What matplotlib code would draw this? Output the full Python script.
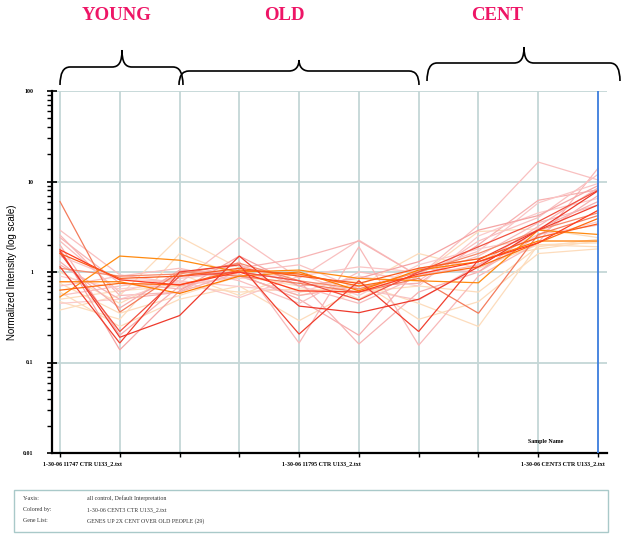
import matplotlib
matplotlib.use('Agg')
import matplotlib.pyplot as plt
from matplotlib.path import Path
from matplotlib.patches import PathPatch, Rectangle
from matplotlib.ticker import FixedLocator, FixedFormatter, LogLocator, NullFormatter

W, H = 621, 537

# samples along the x axis (only every fourth one is labelled)
sample_labels = ['1-30-06 11747 CTR U133_2.txt', '', '', '',
                 '1-30-06 11795 CTR U133_2.txt', '', '', '',
                 '1-30-06 CENT3 CTR U133_2.txt', '']

# age groups: name, first sample, last sample
groups = [('YOUNG', 0, 2), ('OLD', 2, 6), ('CENT', 6, 9)]

# normalized intensity per gene (29 genes x 10 samples), light colours first
intensity = [
    [0.38, 0.55, 2.45, 1.1, 0.6, 0.7, 1.6, 1.1, 2.0, 1.9],
    [0.47, 0.30, 1.6, 0.9, 0.7, 0.8, 0.30, 0.47, 1.6, 1.8],
    [0.60, 0.25, 0.50, 0.70, 0.29, 0.65, 0.9, 2.8, 3.0, 2.4],
    [1.0, 0.45, 0.95, 0.55, 1.0, 0.50, 1.1, 1.4, 1.8, 2.2],
    [0.50, 0.62, 0.70, 0.60, 0.65, 0.60, 0.70, 0.60, 1.9, 2.3],
    [0.75, 0.35, 0.55, 0.9, 0.55, 0.75, 0.45, 0.25, 2.0, 2.1],
    [2.9, 0.93, 0.75, 2.4, 0.85, 2.25, 0.9, 3.3, 16.4, 10.4],
    [2.56, 0.55, 0.60, 1.3, 0.164, 1.9, 0.155, 0.9, 2.1, 14.0],
    [1.99, 0.20, 0.70, 0.9, 0.55, 0.70, 0.75, 2.0, 6.2, 8.1],
    [1.5, 0.82, 0.80, 0.52, 0.9, 1.14, 1.0, 1.7, 5.8, 9.5],
    [2.2, 0.60, 0.9, 1.2, 0.70, 0.45, 0.9, 1.5, 3.5, 5.5],
    [0.45, 0.50, 0.80, 0.69, 0.60, 0.9, 0.70, 2.5, 4.5, 6.5],
    [0.55, 0.70, 0.85, 1.0, 1.2, 0.65, 0.49, 1.2, 2.6, 3.3],
    [1.3, 0.40, 1.05, 0.95, 0.50, 0.20, 1.1, 1.0, 3.0, 6.0],
    [0.70, 0.9, 1.1, 0.8, 0.45, 1.0, 0.8, 2.2, 4.0, 12.0],
    [2.4, 0.75, 0.65, 1.1, 1.42, 2.2, 0.9, 1.2, 3.2, 8.5],
    [0.9, 0.65, 0.75, 0.85, 0.95, 0.55, 1.2, 1.8, 2.4, 3.6],
    [1.2, 0.50, 0.60, 1.0, 0.8, 0.16, 0.60, 1.0, 2.5, 7.0],
    [1.8, 0.138, 0.62, 1.5, 0.70, 0.85, 1.3, 2.9, 4.2, 9.0],
    [6.0, 0.36, 1.0, 0.9, 0.75, 0.60, 0.85, 0.35, 2.6, 4.2],
    [1.1, 0.9, 0.95, 1.25, 0.8, 0.65, 1.0, 1.6, 2.9, 4.5],
    [0.53, 1.5, 1.35, 1.0, 1.05, 0.85, 0.8, 0.76, 2.9, 2.6],
    [0.78, 0.78, 0.58, 0.9, 1.0, 0.62, 1.05, 1.3, 2.2, 2.2],
    [0.63, 0.75, 0.72, 1.05, 0.95, 0.70, 0.9, 1.14, 2.1, 3.9],
    [1.62, 0.22, 0.9, 1.0, 0.8, 0.49, 1.0, 1.9, 3.6, 8.0],
    [1.14, 0.164, 1.0, 1.2, 0.206, 0.8, 0.22, 1.36, 2.9, 5.5],
    [1.7, 0.19, 0.33, 1.5, 0.42, 0.355, 0.5, 1.14, 2.9, 7.9],
    [1.76, 0.82, 0.72, 1.0, 0.62, 0.60, 0.95, 1.3, 2.1, 4.8],
    [1.6, 0.85, 0.9, 1.1, 0.9, 0.75, 1.1, 1.4, 2.4, 3.4],
]
line_colors = (['#fddcbc'] * 6 + ['#f9c0c0', '#f8b8b8', '#f7b0b0', '#fac6c6', '#f8bcbc',
                                  '#fbcaca', '#f9c2c2', '#f6aeae', '#f9c0c0', '#f7b4b4',
                                  '#fbcccc', '#f7b2b2', '#f5a4a4']
               + ['#f47c5c', '#f68a6c', '#ff8a10', '#ff7a00', '#ff6a10',
                  '#f25040', '#f04030', '#ee3a2c', '#ff3c1e', '#fb5a1e'])

fig = plt.figure(figsize=(W / 100, H / 100), dpi=100)

# main plot area
ax = fig.add_axes([52 / W, 1 - 453 / H, 555 / W, 362 / H])
ax.set_yscale('log')
ax.set_ylim(0.01, 100)
ax.set_xlim(-8 / 59.78, 9 + 9 / 59.78)

grid_c = '#c4d7d7'
for v in [0.1, 1, 10, 100]:
    ax.axhline(v, color=grid_c, lw=1.3, zorder=1)
for i in range(len(sample_labels)):
    if i == len(sample_labels) - 1:
        ax.axvline(i, color='#3b7ddd', lw=1.3, zorder=3)
    else:
        ax.axvline(i, color=grid_c, lw=1.3, zorder=1)

xs = list(range(len(sample_labels)))
for row, c in zip(intensity, line_colors):
    ax.plot(xs, row, color=c, lw=0.9, zorder=2, solid_joinstyle='miter')

for s in ['top', 'right']:
    ax.spines[s].set_visible(False)
for s in ['left', 'bottom']:
    ax.spines[s].set_linewidth(1.6)

tick_font = dict(family='Liberation Serif', weight='bold', size=4.3)
ax.yaxis.set_major_locator(FixedLocator([0.01, 0.1, 1, 10, 100]))
ax.yaxis.set_major_formatter(FixedFormatter(['0.01', '0.1', '1', '10', '100']))
ax.yaxis.set_minor_locator(LogLocator(base=10, subs=range(2, 10)))
ax.yaxis.set_minor_formatter(NullFormatter())
ax.tick_params(axis='y', which='major', direction='inout', length=7, width=1.2, pad=10)
ax.tick_params(axis='y', which='minor', direction='out', length=3.5, width=1.0)
ax.tick_params(axis='x', which='major', direction='out', length=3, width=1.0)
for lab in ax.get_yticklabels():
    lab.set_fontproperties(tick_font)

ax.set_xticks(xs)
ax.set_xticklabels([])
for i, lab in enumerate(sample_labels):
    if lab:
        ax.text(i - 0.29, 0.0082, lab, ha='left', va='top', **tick_font)
ax.text(8.13, 0.0125, 'Sample Name', ha='center', va='bottom', **tick_font)

fig.text(12 / W, 1 - 272 / H, 'Normalized Intensity (log scale)', rotation=90,
         ha='center', va='center', family='Liberation Sans', size=7)

# overlay in pixel coordinates for group braces and the info box
ov = fig.add_axes([0, 0, 1, 1], facecolor='none')
ov.set_xlim(0, W)
ov.set_ylim(H, 0)
ov.axis('off')


def brace(x0, x1, xc, y_end, y_mid, y_top):
    r = 10
    verts = [(x0, y_end),
             (x0, y_mid), (x0 + r, y_mid),
             (xc - 10, y_mid),
             (xc - 3, y_mid), (xc, y_mid - 5), (xc, y_top),
             (xc, y_mid - 5), (xc + 3, y_mid), (xc + 10, y_mid),
             (x1 - r, y_mid),
             (x1, y_mid), (x1, y_end)]
    codes = [Path.MOVETO, Path.CURVE3, Path.CURVE3, Path.LINETO,
             Path.CURVE4, Path.CURVE4, Path.CURVE4,
             Path.CURVE4, Path.CURVE4, Path.CURVE4,
             Path.LINETO, Path.CURVE3, Path.CURVE3]
    ov.add_patch(PathPatch(Path(verts, codes), fc='none', ec='black', lw=1.2))


brace_px = {'YOUNG': (60, 183, 122, 85, 67, 50, 117),
            'OLD': (179, 419, 299, 85, 71, 60, 284),
            'CENT': (427, 620, 524, 81, 63, 47, 497)}
for name, g0, g1 in groups:
    x0, x1, xc, ye, ym, yt, tx = brace_px[name]
    brace(x0, x1, xc, ye, ym, yt)
    ov.text(tx, 15, name, ha='center', va='center', color='#ee1566',
            family='Liberation Serif', weight='bold', size=13.5)

ov.add_patch(Rectangle((14, 490), 594, 42, fc='white', ec='#a9c9c9', lw=1.0))
info = [('Y-axis:', 'all control, Default Interpretation'),
        ('Colored by:', '1-30-06 CENT3 CTR U133_2.txt'),
        ('Gene List:', 'GENES UP 2X CENT OVER OLD PEOPLE (29)')]
for k, (key, val) in enumerate(info):
    y = 498 + 11.5 * k
    ov.text(23, y, key, ha='left', va='center', family='Liberation Serif', size=4.2, color='#333333')
    ov.text(87, y, val, ha='left', va='center', family='Liberation Serif', size=4.2, color='#333333')

fig.savefig('out.png', dpi=100)
